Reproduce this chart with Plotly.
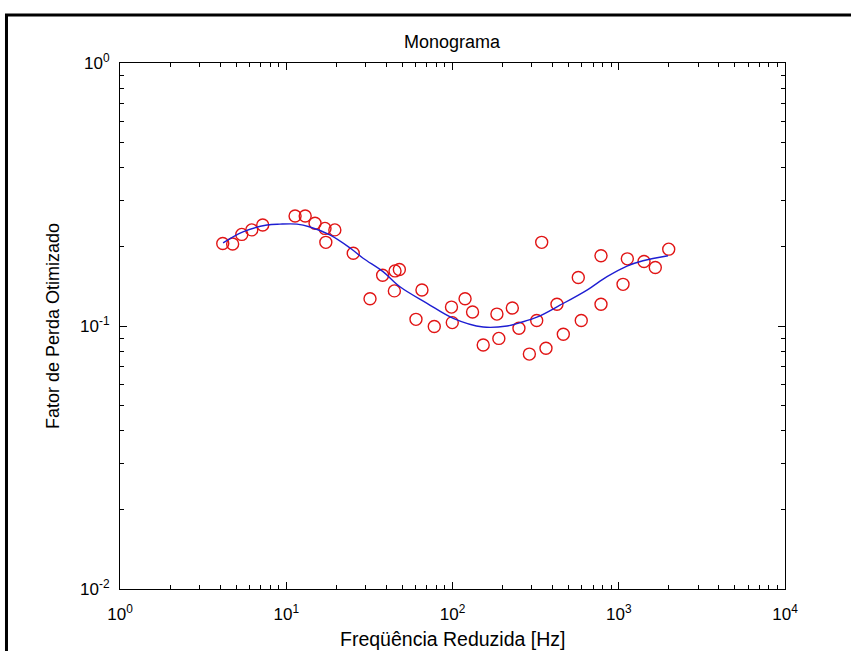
import plotly.graph_objects as go

# Measured loss-factor points (reduced frequency in Hz, optimized loss factor)
freq_pts = [4.15, 4.76, 5.40, 6.20, 7.22, 11.3, 13.0, 14.9, 17.1, 17.3, 19.6, 25.3,
            31.9, 38.0, 44.7, 45.1, 47.9, 60.3, 65.5, 77.7, 98.6, 99.7, 119, 132,
            153, 185, 190, 229, 251, 290, 321, 344, 365, 425, 464, 571, 595, 782,
            782, 1061, 1126, 1419, 1659, 1998]
loss_pts = [0.206, 0.205, 0.223, 0.232, 0.242, 0.262, 0.262, 0.246, 0.235, 0.208,
            0.232, 0.189, 0.127, 0.156, 0.136, 0.162, 0.164, 0.106, 0.137, 0.0996,
            0.118, 0.103, 0.127, 0.113, 0.0847, 0.111, 0.0897, 0.117, 0.098, 0.0782,
            0.105, 0.208, 0.0823, 0.121, 0.093, 0.153, 0.105, 0.185, 0.121, 0.144,
            0.180, 0.176, 0.167, 0.196]

# Fitted master curve
freq_fit = [4.17, 5.49, 7.66, 9.17, 11.6, 13.9, 18.3, 24.2, 29.0, 38.2, 48.3, 70.3,
            101, 153, 213, 255, 322, 443, 644, 850, 1121, 1399, 1978]
loss_fit = [0.207, 0.228, 0.242, 0.244, 0.244, 0.238, 0.222, 0.198, 0.181, 0.161,
            0.141, 0.122, 0.107, 0.0991, 0.100, 0.103, 0.108, 0.120, 0.137, 0.154,
            0.169, 0.177, 0.185]

x_major = [1, 10, 100, 1000, 10000]
x_major_text = ["10<sup>0</sup>", "10<sup>1</sup>", "10<sup>2</sup>",
                "10<sup>3</sup>", "10<sup>4</sup>"]
y_major = [0.01, 0.1, 1]
y_major_text = ["10<sup>-2</sup>", "10<sup>-1</sup>", "10<sup>0</sup>"]

x_minor = [m * 10 ** d for d in range(0, 4) for m in range(2, 10)]
y_minor = [m * 10 ** d for d in range(-2, 0) for m in range(2, 10)]

FONT = "Liberation Sans, Arial, sans-serif"

fig = go.Figure()
fig.add_trace(go.Scatter(
    x=freq_pts, y=loss_pts, mode="markers",
    marker=dict(symbol="circle-open", size=12, color="rgb(225,20,20)",
                line=dict(width=1.4, color="rgb(225,20,20)")),
    showlegend=False, hoverinfo="x+y"))
fig.add_trace(go.Scatter(
    x=freq_fit, y=loss_fit, mode="lines",
    line=dict(color="rgb(30,30,210)", width=1.4, shape="spline"),
    showlegend=False, hoverinfo="x+y"))

axis_common = dict(
    showline=True, linecolor="black", linewidth=1, mirror="allticks",
    ticks="inside", ticklen=7, tickcolor="black", tickwidth=1,
    showgrid=False, zeroline=False,
    tickfont=dict(family=FONT, size=17, color="black"),
)

fig.update_xaxes(
    type="log", range=[0, 4], tickmode="array",
    tickvals=x_major, ticktext=x_major_text, ticklabelstandoff=10,
    minor=dict(ticks="inside", ticklen=4, tickcolor="black", tickwidth=1,
               tickmode="array", tickvals=x_minor, showgrid=False),
    **axis_common)
fig.update_yaxes(
    type="log", range=[-2, 0], tickmode="array",
    tickvals=y_major, ticktext=y_major_text, ticklabelstandoff=6,
    minor=dict(ticks="inside", ticklen=4, tickcolor="black", tickwidth=1,
               tickmode="array", tickvals=y_minor, showgrid=False),
    **axis_common)

# Figure frame
fig.add_shape(type="rect", xref="paper", yref="paper",
              x0=-0.1707, x1=1.2, y0=-0.2, y1=1.0913,
              line=dict(color="black", width=3), fillcolor="rgba(0,0,0,0)",
              layer="above")

fig.add_annotation(text="Monograma", xref="paper", yref="paper", x=0.5, y=1,
                   xanchor="center", yanchor="middle", yshift=21, showarrow=False,
                   font=dict(family=FONT, size=18, color="black"))
fig.add_annotation(text="Freqüência Reduzida [Hz]", xref="paper", yref="paper",
                   x=0.5, y=0, xanchor="center", yanchor="middle", yshift=-50,
                   showarrow=False, font=dict(family=FONT, size=19.5, color="black"))
fig.add_annotation(text="Fator de Perda Otimizado", xref="paper", yref="paper",
                   x=0, y=0.5, xanchor="center", yanchor="middle", xshift=-67,
                   textangle=-90, showarrow=False,
                   font=dict(family=FONT, size=18, color="black"))

fig.update_layout(
    width=851, height=651,
    margin=dict(l=120, r=66, t=63, b=62),
    paper_bgcolor="white", plot_bgcolor="white",
)

fig.write_html("out.html")
